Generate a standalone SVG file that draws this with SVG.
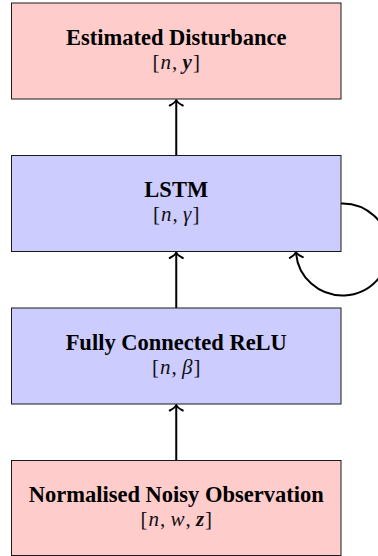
<svg xmlns="http://www.w3.org/2000/svg" width="378" height="556" viewBox="0 0 378 556">
<style>
.box{stroke:#1a1a1a;stroke-width:1}
.pink{fill:#FFCCCC}
.blue{fill:#CCCCFF}
.title{font-family:"Liberation Serif","Times New Roman",serif;font-weight:bold;font-size:22.5px;fill:#000;text-anchor:middle}
.math{font-family:"Liberation Serif","Times New Roman",serif;font-size:21px;fill:#111;text-anchor:middle}
.it{font-style:italic}
.bi{font-style:italic;font-weight:bold}
.conn{fill:none;stroke:#000;stroke-width:2}
</style>
<defs>
<marker id="to" markerUnits="userSpaceOnUse" markerWidth="16" markerHeight="16" viewBox="-8 -8 16 16" refX="0" refY="0" orient="auto" overflow="visible">
<path d="M -5.5 -6.5 C -3.5 -2.5 -1.5 -0.6 0 0 C -1.5 0.6 -3.5 2.5 -5.5 6.5" fill="none" stroke="#000" stroke-width="2" stroke-linecap="round" stroke-linejoin="round"/>
</marker>
</defs>
<g id="connectors">
<line class="conn" x1="176.25" y1="155.5" x2="176.25" y2="100" marker-end="url(#to)"/>
<line class="conn" x1="176.25" y1="308" x2="176.25" y2="252.5" marker-end="url(#to)"/>
<line class="conn" x1="176.25" y1="460.5" x2="176.25" y2="405" marker-end="url(#to)"/>
<path class="conn" d="M 341 203.5 A 46.5 46 0 1 1 296 252" marker-end="url(#to)"/>
</g>
<g id="estimated-disturbance">
<rect class="box pink" x="11.5" y="3" width="329.5" height="96"/>
<text class="title" x="176.25" y="44.8">Estimated Disturbance</text>
<text class="math" x="176.25" y="68.5">[<tspan class="it" dx="1">n</tspan><tspan dx="1">,</tspan> <tspan class="bi">y</tspan><tspan dx="1">]</tspan></text>
</g>
<g id="lstm">
<rect class="box blue" x="11.5" y="155.5" width="329.5" height="96"/>
<text class="title" x="176.25" y="197.3">LSTM</text>
<text class="math" x="176.25" y="221">[<tspan class="it" dx="1">n</tspan><tspan dx="1">,</tspan> <tspan class="it">γ</tspan><tspan dx="1">]</tspan></text>
</g>
<g id="fully-connected-relu">
<rect class="box blue" x="11.5" y="308" width="329.5" height="96"/>
<text class="title" x="176.25" y="349.8">Fully Connected ReLU</text>
<text class="math" x="176.25" y="373.5">[<tspan class="it" dx="1">n</tspan><tspan dx="1">,</tspan> <tspan class="it">β</tspan><tspan dx="1">]</tspan></text>
</g>
<g id="normalised-noisy-observation">
<rect class="box pink" x="11.5" y="460.5" width="329.5" height="95"/>
<text class="title" x="176.25" y="502.3">Normalised Noisy Observation</text>
<text class="math" x="176.25" y="526">[<tspan class="it" dx="1">n</tspan><tspan dx="1">,</tspan> <tspan class="it">w</tspan><tspan dx="1">,</tspan> <tspan class="bi">z</tspan><tspan dx="1">]</tspan></text>
</g>
</svg>
